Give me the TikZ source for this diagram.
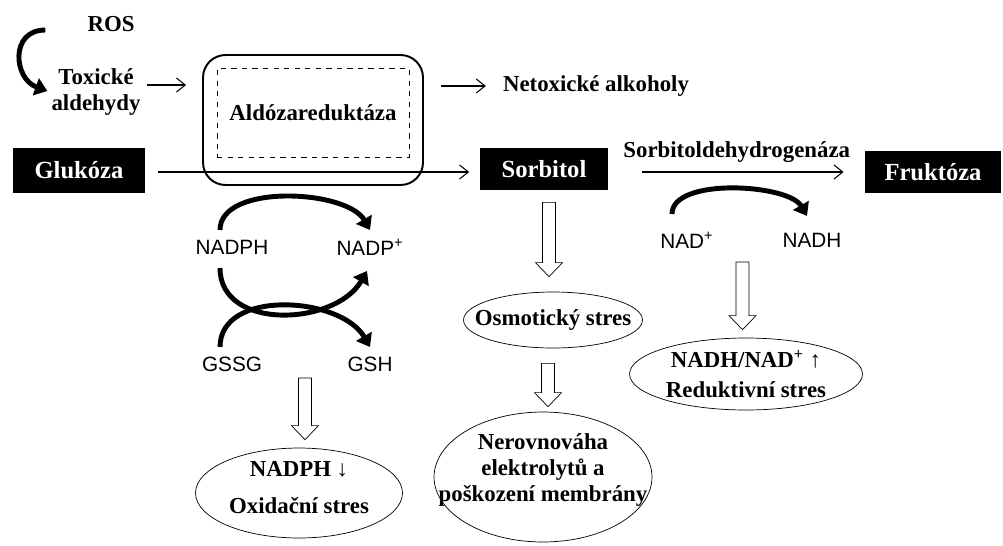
\documentclass[tikz,border=0pt]{standalone}
\usepackage{fontspec}
\setmainfont{Liberation Serif}
\setsansfont{Liberation Sans}
\usetikzlibrary{arrows.meta, positioning, shapes.geometric, calc}

% open (white) arrow pointing down, from #1 to the height of #2
\newcommand{\hollowarrow}[2]{%
  \draw[thin, fill=white] let \p1=(#1), \p2=(#2) in
    (\x1-3.7pt,\y1) -- (\x1+3.7pt,\y1) -- (\x1+3.7pt,\y2+8pt)
    -- (\x1+7.7pt,\y2+8pt) -- (\x1,\y2) -- (\x1-7.7pt,\y2+8pt)
    -- (\x1-3.7pt,\y2+8pt) -- cycle;
}

\begin{document}
\begin{tikzpicture}[
    x=0.02cm, y=-0.02cm,
    every node/.style={font=\bfseries\fontsize{13}{15}\selectfont},
    sugar/.style={rectangle, fill=black, text=white, minimum height=0.84cm,
                  font=\bfseries\fontsize{14}{16}\selectfont},
    cof/.style={font=\sffamily\fontsize{11.8}{14}\selectfont, inner sep=1pt},
    stress/.style={ellipse, draw, thin, inner sep=0pt},
    arr/.style={-{Straight Barb[length=5pt,width=8pt]}, semithick},
    curved/.style={line width=2.8pt, -{Triangle[length=7pt,width=10pt]}},
]
\useasboundingbox (0,0) rectangle (1003,545);

% top row
\node (ros) at (111,24) {ROS};
\node[align=center] (tox) at (96,92) {Toxické\\aldehydy};
\node[draw, line width=1.1pt, rounded corners=0.45cm, minimum width=4.4cm,
      minimum height=2.6cm] (enz) at (313,120) {};
\node[draw, dashed, minimum width=3.84cm, minimum height=1.78cm] (ald) at (313,113) {Aldózareduktáza};
\node (net) at (596,86) {Netoxické alkoholy};

% sugars
\node[sugar, minimum width=2.64cm, minimum height=0.9cm] (glu) at (79,170) {Glukóza};
\node[sugar, minimum width=2.58cm] (sorb) at (544,169) {Sorbitol};
\node[sugar, minimum width=2.72cm] (fru) at (933,172) {Fruktóza};

% cofactors
\node[cof] (nadph) at (232,247) {NADPH};
\node[cof] (nadp) at (370,247) {NADP\textsuperscript{+}};
\node[cof] (gssg) at (232,364) {GSSG};
\node[cof] (gsh) at (370,364) {GSH};
\node[cof] (nad) at (687,240) {NAD\textsuperscript{+}};
\node[cof] (nadh) at (812,240) {NADH};

% consequences
\node[stress, minimum width=4.14cm, minimum height=1.8cm,
      label={[align=center, yshift=3pt]center:{NADPH ↓\\[6pt]Oxidační stres}}] (ox) at (299,493) {};
\node[stress, minimum width=3.58cm, minimum height=1.12cm,
      label={center:Osmotický stres}] (osmo) at (553,320) {};
\node[stress, minimum width=4.36cm, minimum height=2.6cm,
      label={[align=center, yshift=4pt]center:{Nerovnováha\\elektrolytů a\\poškození membrány}}] (nerov) at (543,477) {};
\node[stress, minimum width=4.66cm, minimum height=1.44cm,
      label={[align=center]center:{NADH/NAD\textsuperscript{+} ↑\\[2pt]Reduktivní stres}}] (red) at (746,374) {};

% connectors
\draw[curved] ($(ros.west)+(-36,6)$) to[out=180, in=160, looseness=1.5] ($(tox.west)+(2,-1)$);
\draw[arr] ($(tox.east)+(0,-7)$) -- ($(tox.east -| enz.west)+(-16,-7)$);
\draw[arr] ($(enz.east |- net.west)+(17,0)$) -- ($(net.west)+(-11,0)$);
\draw[arr, shorten <=7.4pt, shorten >=5.7pt] ($(glu.east)+(0,2)$) -- ($(glu.east -| sorb.west)+(0,2)$);
\draw[arr, shorten <=19pt, shorten >=12pt] (fru.west -| sorb.east) -- (fru.west)
    node[midway, above=2pt] {Sorbitoldehydrogenáza};

\draw[curved] ($(nadph)+(-12,-17)$) to[out=90, in=120, looseness=0.8] ($(nadp)+(0,-17)$);
\draw[curved] ($(nadph)+(-12,21)$) to[out=-90, in=-120, looseness=1.1] ($(nadp)+(-3,24)$);
\draw[curved] ($(gssg)+(-12,-17)$) to[out=90, in=120] ($(gsh)+(0,-17)$);
\draw[curved] ($(nad)+(-15,-26)$) to[out=90, in=120, looseness=0.7] ($(nadh)+(-5,-24)$);

\hollowarrow{$(sorb.south)+(5,12)$}{$(osmo.north)+(0,-15)$}
\hollowarrow{$(osmo.south)+(-5,15)$}{$(nerov.north)+(0,-5)$}
\hollowarrow{$(gssg)!0.5!(gsh)+(4,14)$}{$(ox.north)+(0,-8)$}
\hollowarrow{$(nad)!0.5!(nadh)+(-7,22)$}{$(red.north)+(0,-8)$}

\end{tikzpicture}
\end{document}
